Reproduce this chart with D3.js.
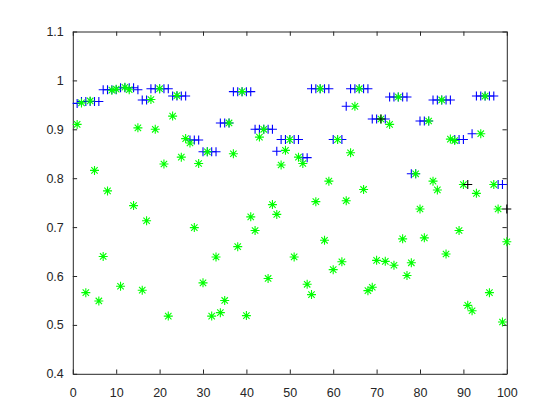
<!DOCTYPE html>
<html>
<head>
<meta charset="utf-8">
<script src="https://cdn.jsdelivr.net/npm/d3@7"></script>
<style>
body { margin: 0; background: #fff; }
svg { display: block; }
.tick text { font-family: "Liberation Sans", Arial, sans-serif; font-size: 12.5px; fill: #262626; }
.tick line, .domain { stroke: #262626; }
</style>
</head>
<body>
<svg width="560" height="420"></svg>
<script>
// green '*' : measured values, sample 1..100
var actual = [
  0.910, 0.954, 0.566, 0.958, 0.816, 0.549, 0.640, 0.774, 0.980, 0.982,
  0.579, 0.986, 0.981, 0.744, 0.903, 0.571, 0.713, 0.961, 0.900, 0.983,
  0.829, 0.518, 0.927, 0.969, 0.843, 0.881, 0.872, 0.699, 0.830, 0.586,
  0.854, 0.518, 0.639, 0.525, 0.550, 0.913, 0.850, 0.660, 0.977, 0.519,
  0.721, 0.693, 0.884, 0.900, 0.595, 0.746, 0.726, 0.827, 0.857, 0.879,
  0.639, 0.843, 0.830, 0.583, 0.562, 0.752, 0.983, 0.673, 0.794, 0.613,
  0.879, 0.629, 0.754, 0.852, 0.947, 0.983, 0.777, 0.570, 0.577, 0.632,
  0.921, 0.630, 0.910, 0.622, 0.966, 0.676, 0.601, 0.627, 0.809, 0.737,
  0.678, 0.917, 0.794, 0.776, 0.960, 0.645, 0.880, 0.877, 0.693, 0.787,
  0.540, 0.529, 0.769, 0.891, 0.968, 0.566, 0.787, 0.737, 0.506, 0.670
];

// blue '+' : predicted values
var predicted = [
  0.953, 0.957, 0.957, 0.957, 0.957, 0.957, 0.981, 0.981, 0.981, 0.981,
  0.985, 0.985, 0.985, 0.985, 0.981, 0.960, 0.960, 0.983, 0.983, 0.983,
  0.983, 0.983, 0.968, 0.968, 0.968, 0.968, 0.878, 0.878, 0.878, 0.854,
  0.854, 0.854, 0.854, 0.913, 0.913, 0.913, 0.977, 0.977, 0.977, 0.977,
  0.977, 0.900, 0.900, 0.900, 0.900, 0.900, 0.855, 0.879, 0.879, 0.879,
  0.879, 0.879, 0.842, 0.842, 0.983, 0.983, 0.983, 0.983, 0.983, 0.879,
  0.879, 0.879, 0.947, 0.983, 0.983, 0.983, 0.983, 0.983, 0.921, 0.921,
  0.921, 0.921, 0.966, 0.966, 0.966, 0.966, 0.966, 0.809, 0.809, 0.917,
  0.917, 0.917, 0.960, 0.960, 0.960, 0.960, 0.960, 0.879, 0.879, 0.879,
  0.787, 0.891, 0.968, 0.968, 0.968, 0.968, 0.968, 0.787, 0.787, 0.737
];

// samples whose prediction is drawn in black
var missIdx = [71, 91, 100];

var xTicks = [0, 10, 20, 30, 40, 50, 60, 70, 80, 90, 100];
var yTicks = [0.4, 0.5, 0.6, 0.7, 0.8, 0.9, 1, 1.1];

var svg = d3.select("svg"),
    margin = {left: 72.8, top: 31.5},
    width = 434,
    height = 342.3;

var x = d3.scaleLinear().domain([0, 100]).range([margin.left, margin.left + width]);
var y = d3.scaleLinear().domain([0.4, 1.1]).range([margin.top + height, margin.top]);

var tick = 4.3;

svg.append("g")
    .attr("transform", "translate(0," + (margin.top + height) + ")")
    .call(d3.axisBottom(x).tickValues(xTicks).tickSizeInner(-tick).tickSizeOuter(0).tickPadding(14));
svg.append("g")
    .attr("transform", "translate(0," + margin.top + ")")
    .call(d3.axisTop(x).tickValues(xTicks).tickFormat("").tickSizeInner(-tick).tickSizeOuter(0));
svg.append("g")
    .attr("transform", "translate(" + margin.left + ",0)")
    .call(d3.axisLeft(y).tickValues(yTicks).tickFormat(d3.format("~g")).tickSizeInner(-tick).tickSizeOuter(0).tickPadding(9));
svg.append("g")
    .attr("transform", "translate(" + (margin.left + width) + ",0)")
    .call(d3.axisRight(y).tickValues(yTicks).tickFormat("").tickSizeInner(-tick).tickSizeOuter(0));

var plus = "M-4.5,0H4.5M0,-4.5V4.5",
    star = "M-4.5,0H4.5M0,-4.5V4.5M-3.2,-3.2L3.2,3.2M-3.2,3.2L3.2,-3.2";

var pred = predicted.map(function(v, i) { return {i: i + 1, v: v, miss: missIdx.indexOf(i + 1) >= 0}; });

svg.append("g")
    .attr("class", "predicted")
    .selectAll("path")
    .data(pred.filter(function(d) { return !d.miss; }))
    .enter()
        .append("path")
        .attr("d", plus)
        .attr("transform", function(d) { return "translate(" + x(d.i) + "," + y(d.v) + ")"; })
        .attr("fill", "none")
        .attr("stroke", "#0000ff")
        .attr("stroke-width", 1.1);

svg.append("g")
    .attr("class", "actual")
    .selectAll("path")
    .data(actual)
    .enter()
        .append("path")
        .attr("d", star)
        .attr("transform", function(d, i) { return "translate(" + x(i + 1) + "," + y(d) + ")"; })
        .attr("fill", "none")
        .attr("stroke", "#00ff00")
        .attr("stroke-width", 1.1);

svg.append("g")
    .attr("class", "missed")
    .selectAll("path")
    .data(pred.filter(function(d) { return d.miss; }))
    .enter()
        .append("path")
        .attr("d", plus)
        .attr("transform", function(d) { return "translate(" + x(d.i) + "," + y(d.v) + ")"; })
        .attr("fill", "none")
        .attr("stroke", "#000000")
        .attr("stroke-width", 1.1);
</script>
</body>
</html>
